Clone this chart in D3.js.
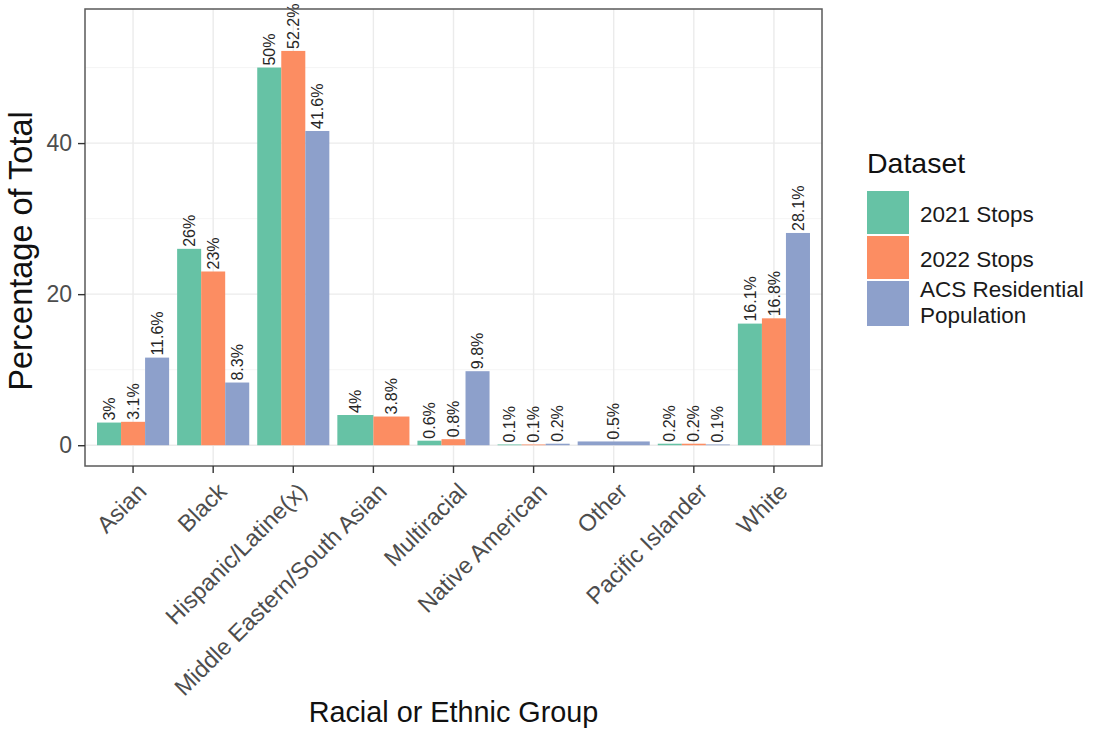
<!DOCTYPE html>
<html>
<head>
<meta charset="utf-8">
<script src="https://cdn.jsdelivr.net/npm/d3@7"></script>
<style>
  body { margin: 0; background: #fff; }
  svg text { font-family: "Liberation Sans", Arial, Helvetica, sans-serif; }
</style>
</head>
<body>
<svg id="chart" width="1096" height="729"></svg>
<script>
// data
var categories = ["Asian", "Black", "Hispanic/Latine(x)", "Middle Eastern/South Asian",
  "Multiracial", "Native American", "Other", "Pacific Islander", "White"];
var datasets = ["2021 Stops", "2022 Stops", "ACS Residential Population"];
var stops2021 = [3, 26, 50, 4, 0.6, 0.1, null, 0.2, 16.1];
var stops2022 = [3.1, 23, 52.2, 3.8, 0.8, 0.1, null, 0.2, 16.8];
var acsPop    = [11.6, 8.3, 41.6, null, 9.8, 0.2, 0.5, 0.1, 28.1];
var yTicks = [0, 20, 40];
var yMinor = [10, 30, 50];
var colors = ["#66C2A5", "#FC8D62", "#8DA0CB"];

var series = [stops2021, stops2022, acsPop];

var svg = d3.select("#chart");
var panel = {left: 85, right: 822, top: 9, bottom: 466};

var x = d3.scaleBand()
  .domain(categories)
  .range([panel.left, panel.right])
  .paddingInner(0)
  .paddingOuter(0.1);

var y = d3.scaleLinear()
  .domain([-2.75, 57.75])
  .range([panel.bottom, panel.top]);

var color = d3.scaleOrdinal().domain(datasets).range(colors);

// grid
var g = svg.append("g");
g.selectAll("line.minor").data(yMinor).enter().append("line")
  .attr("x1", panel.left).attr("x2", panel.right)
  .attr("y1", d => y(d)).attr("y2", d => y(d))
  .attr("stroke", "#F3F3F3").attr("stroke-width", 0.8);
g.selectAll("line.major").data(yTicks).enter().append("line")
  .attr("x1", panel.left).attr("x2", panel.right)
  .attr("y1", d => y(d)).attr("y2", d => y(d))
  .attr("stroke", "#EBEBEB").attr("stroke-width", 1.4);
g.selectAll("line.vmajor").data(categories).enter().append("line")
  .attr("x1", d => x(d) + x.bandwidth() / 2).attr("x2", d => x(d) + x.bandwidth() / 2)
  .attr("y1", panel.top).attr("y2", panel.bottom)
  .attr("stroke", "#EBEBEB").attr("stroke-width", 1.4);

// bars - dodge keeps total width, so missing series widen the others
var rows = [];
categories.forEach(function(c, i) {
  var present = [];
  series.forEach(function(s, j) {
    if (s[i] != null) present.push({cat: c, set: datasets[j], value: s[i]});
  });
  var inner = d3.scaleBand()
    .domain(present.map(d => d.set))
    .range([x(c) + x.bandwidth() * 0.05, x(c) + x.bandwidth() * 0.95]);
  present.forEach(function(d) {
    d.x0 = inner(d.set);
    d.w = inner.bandwidth();
    rows.push(d);
  });
});

svg.append("g").selectAll("rect").data(rows).enter().append("rect")
  .attr("x", d => d.x0)
  .attr("width", d => d.w)
  .attr("y", d => y(Math.max(d.value, 0)))
  .attr("height", d => y(0) - y(d.value))
  .attr("fill", d => color(d.set));

svg.append("g").selectAll("text").data(rows).enter().append("text")
  .attr("transform", d => "translate(" + (d.x0 + d.w / 2) + "," + (y(d.value) - 2) + ") rotate(-90)")
  .attr("dy", "0.35em")
  .attr("font-size", 16)
  .attr("fill", "#262626")
  .text(d => d.value + "%");

// panel border
svg.append("rect")
  .attr("x", panel.left).attr("y", panel.top)
  .attr("width", panel.right - panel.left).attr("height", panel.bottom - panel.top)
  .attr("fill", "none").attr("stroke", "#5a5a5a").attr("stroke-width", 1.5);

// y axis
var yAxis = svg.append("g")
  .attr("transform", "translate(" + panel.left + ",0)")
  .call(d3.axisLeft(y).tickValues(yTicks).tickSize(7).tickPadding(6));
yAxis.select(".domain").remove();
yAxis.selectAll(".tick line").attr("stroke", "#333").attr("stroke-width", 1.4);
yAxis.selectAll(".tick text")
  .attr("font-size", 23).attr("fill", "#4D4D4D")
  .style("font-family", "Liberation Sans, Arial, sans-serif");

// x axis
var xAxis = svg.append("g")
  .attr("transform", "translate(0," + panel.bottom + ")")
  .call(d3.axisBottom(x).tickSize(7).tickPadding(0));
xAxis.select(".domain").remove();
xAxis.selectAll(".tick line").attr("stroke", "#333").attr("stroke-width", 1.4);
xAxis.selectAll(".tick text")
  .attr("font-size", 23.5).attr("fill", "#4D4D4D")
  .style("font-family", "Liberation Sans, Arial, sans-serif")
  .attr("text-anchor", "end")
  .attr("x", 0).attr("y", 0).attr("dy", "0.72em")
  .attr("transform", "translate(3,15) rotate(-45)");

// axis titles
svg.append("text")
  .attr("x", (panel.left + panel.right) / 2).attr("y", 722)
  .attr("text-anchor", "middle").attr("font-size", 28.8).attr("fill", "#111")
  .text("Racial or Ethnic Group");

svg.append("text")
  .attr("transform", "translate(32,251) rotate(-90)")
  .attr("text-anchor", "middle").attr("font-size", 32.5).attr("fill", "#111")
  .text("Percentage of Total");

// legend
var legend = svg.append("g");
legend.append("text")
  .attr("x", 867).attr("y", 173)
  .attr("font-size", 28.5).attr("fill", "#111")
  .text("Dataset");

var keyY = [191, 236, 281];
var keyH = [43, 43, 45];
legend.selectAll("rect").data(datasets).enter().append("rect")
  .attr("x", 867).attr("y", (d, i) => keyY[i])
  .attr("width", 42).attr("height", (d, i) => keyH[i])
  .attr("fill", d => color(d));

var labelLines = [["2021 Stops"], ["2022 Stops"], ["ACS Residential", "Population"]];
var labelY = [222, 267, 297];
labelLines.forEach(function(lines, i) {
  var t = legend.append("text")
    .attr("x", 920).attr("y", labelY[i])
    .attr("font-size", 22.5).attr("fill", "#1a1a1a");
  lines.forEach(function(l, k) {
    t.append("tspan").attr("x", 920).attr("dy", k === 0 ? 0 : 26).text(l);
  });
});
</script>
</body>
</html>
